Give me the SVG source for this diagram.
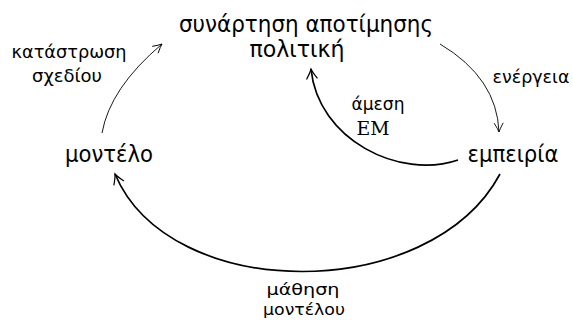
<svg xmlns="http://www.w3.org/2000/svg" width="573" height="320" viewBox="0 0 573 320">
<style>
.big{font-family:'DejaVu Sans',sans-serif;font-size:22.5px;fill:#000}
.lab{font-family:'DejaVu Sans',sans-serif;font-size:17px;fill:#000}
.lab2{font-family:'DejaVu Sans',sans-serif;font-size:16px;fill:#000}
.rm{font-family:'DejaVu Serif',serif;font-size:18px;fill:#000}
.thin{fill:none;stroke:#000;stroke-width:0.9}
.thick{fill:none;stroke:#000;stroke-width:1.7}
</style>
<defs>
<marker id="ah" markerUnits="userSpaceOnUse" markerWidth="14" markerHeight="14" viewBox="-10 -7 12 14" refX="0" refY="0" orient="auto" overflow="visible">
<path d="M-9,-4.5 Q-3,-1 0,0 Q-3,1 -9,4.5" fill="none" stroke="#000" stroke-width="0.9"/>
</marker>
<marker id="ahk" markerUnits="userSpaceOnUse" markerWidth="16" markerHeight="16" viewBox="-12 -8 14 16" refX="0" refY="0" orient="auto" overflow="visible">
<path d="M-10,-5.5 Q-3.5,-1.2 0,0 Q-3.5,1.2 -10,5.5" fill="none" stroke="#000" stroke-width="1.2"/>
</marker>
</defs>
<g id="connectors">
<path class="thin" d="M102,133 Q110,88 162,44" marker-end="url(#ah)"/>
<path class="thin" d="M440,44 Q497,78 499,132" marker-end="url(#ah)"/>
<path class="thick" d="M458,160 C400,180 318,140 311,69" marker-end="url(#ahk)"/>
<path class="thick" d="M500,174 C430,304 170,304 115,174" marker-end="url(#ahk)"/>
</g>
<g id="node-value">
<text class="big" x="306" y="32" text-anchor="middle" textLength="254" lengthAdjust="spacingAndGlyphs">συνάρτηση αποτίμησης</text>
<text class="big" x="297" y="57" text-anchor="middle" textLength="95" lengthAdjust="spacingAndGlyphs">πολιτική</text>
</g>
<g id="node-model">
<text class="big" x="109" y="162" text-anchor="middle" textLength="88" lengthAdjust="spacingAndGlyphs">μοντέλο</text>
</g>
<g id="node-experience">
<text class="big" x="513" y="162" text-anchor="middle" textLength="91" lengthAdjust="spacingAndGlyphs">εμπειρία</text>
</g>
<g id="labels">
<text class="lab" x="69" y="58" text-anchor="middle" textLength="115" lengthAdjust="spacingAndGlyphs">κατάστρωση</text>
<text class="lab" x="67" y="82" text-anchor="middle" textLength="70" lengthAdjust="spacingAndGlyphs">σχεδίου</text>
<text class="lab" x="531" y="83" text-anchor="middle" textLength="77" lengthAdjust="spacingAndGlyphs">ενέργεια</text>
<text class="lab" x="378" y="110" text-anchor="middle" textLength="53" lengthAdjust="spacingAndGlyphs">άμεση</text>
<text class="rm" x="373" y="135" text-anchor="middle" textLength="33" lengthAdjust="spacingAndGlyphs">EM</text>
<text class="lab2" x="303" y="295" text-anchor="middle" textLength="73" lengthAdjust="spacingAndGlyphs">μάθηση</text>
<text class="lab2" x="304" y="315" text-anchor="middle" textLength="82" lengthAdjust="spacingAndGlyphs">μοντέλου</text>
</g>
</svg>
